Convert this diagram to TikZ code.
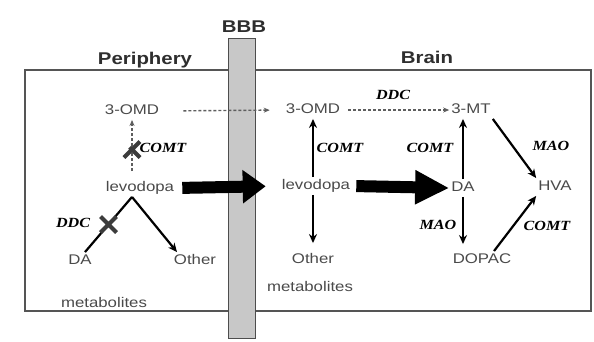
\documentclass[tikz,border=0pt]{standalone}
\usepackage{fontspec}
\newfontfamily\nf[FakeStretch=1.2]{Liberation Sans}
\newfontfamily\lf[FakeStretch=1.15]{Liberation Serif}
\usetikzlibrary{arrows.meta,shapes.misc}
\definecolor{txtgray}{HTML}{4A4A4A}
\definecolor{hdrgray}{HTML}{2E2E2E}
\definecolor{boxc}{HTML}{555555}
\definecolor{barfill}{HTML}{C8C8C8}
\definecolor{bardraw}{HTML}{4D4D4D}
\definecolor{dashgray}{HTML}{5E5E5E}
\definecolor{xgray}{HTML}{3C3C3C}
\tikzset{
  nd/.style={font=\nf\fontsize{14}{16}\selectfont, text=txtgray, inner sep=2pt, text height=10.5pt, text depth=3pt},
  lab/.style={font=\lf\bfseries\itshape\fontsize{14}{16}\selectfont, text=black, inner sep=1pt},
  hdr/.style={font=\nf\bfseries\fontsize{17}{20}\selectfont, text=hdrgray, inner sep=0pt, anchor=base},
  arr/.style={line width=2.2pt, -{Stealth[length=9pt,width=8pt]}},
  ln/.style={line width=2.2pt},
  dsh/.style={line width=1.4pt, dash pattern=on 3pt off 2pt, draw=dashgray, -{Stealth[length=6pt,width=5pt]}},
  big/.style={line width=12pt, -{Triangle[length=#1,width=32pt]}},
  xm/.style={solid, cross out, draw=xgray, line width=4pt, minimum size=12pt, inner sep=0pt},
}
\begin{document}
\begin{tikzpicture}[x=1pt,y=-1pt]
\useasboundingbox (0,0) rectangle (594,341);
\fill[white] (0,0) rectangle (594,341);
% compartments
\draw[boxc, line width=1.5pt] (25,70) rectangle (591,311);
\draw[draw=bardraw, fill=barfill, line width=1pt] (228,38) rectangle (255,338);
% headers
\node[hdr] (hP) at (145,64) {Periphery};
\node[hdr] (hB) at (427,63) {Brain};
\node[hdr] (hBBB) at (244,32) {BBB};
% periphery nodes
\node[nd] (omdP) at (132,111) {3-OMD};
\node[nd] (lvP)  at (140,188) {levodopa};
\node[nd] (daP)  at (80,261) {DA};
\node[nd] (oP)   at (195,261) {Other};
\node[nd] (metP) at (104,304) {metabolites};
% brain nodes
\node[nd] (omdB) at (313,110) {3-OMD};
\node[nd] (mt)   at (471,110) {3-MT};
\node[nd] (lvB)  at (316,186) {levodopa};
\node[nd] (oB)   at (313,260) {Other};
\node[nd] (metB) at (310,288) {metabolites};
\node[nd] (da)   at (463,188) {DA};
\node[nd] (hva)  at (555,187) {HVA};
\node[nd] (dopac) at (482,260) {DOPAC};
% enzyme labels
\node[lab] (cP)  at (163,148) {COMT};
\node[lab] (dP)  at (73,223) {DDC};
\node[lab] (dB1) at (393,95) {DDC};
\node[lab] (cB1) at (340,148) {COMT};
\node[lab] (cB2) at (430,148) {COMT};
\node[lab] (mB1) at (551,146) {MAO};
\node[lab] (mB2) at (438,225) {MAO};
\node[lab] (cB3) at (547,226) {COMT};
% periphery connectors
\draw[dsh, shorten <=8pt] (lvP.north -| omdP.south) -- node[xm, pos=0.5] (xC) {} (omdP.south);
\draw[ln] ([xshift=-8pt]lvP.south) -- node[xm, pos=0.5] (xD) {} ([xshift=5pt]daP.north);
\draw[arr] ([xshift=-8pt]lvP.south) -- ([xshift=-18pt]oP.north);
% crossing the barrier
\draw[dsh, shorten <=22pt, shorten >=14pt] (omdP.east) -- (omdB.west);
\draw[big=23pt, shorten <=6pt, shorten >=14pt] (lvP.east) -- (lvB.west);
% brain connectors
\draw[dsh, shorten <=6pt] (omdB.east) -- (mt.west);
\draw[arr] (lvB.north -| omdB.south) -- (omdB.south);
\draw[arr, shorten >=8pt] (lvB.south -| oB.north) -- (oB.north);
\draw[big=34pt, shorten <=4pt] (lvB.east) -- (da.west);
\draw[arr] (da.north) -- (da.north |- mt.south);
\draw[arr, shorten >=7pt] (da.south) -- (da.south |- dopac.north);
\draw[arr] (mt.south east) -- (hva.north west);
\draw[arr] ([xshift=12pt]dopac.north) -- (hva.south west);
\end{tikzpicture}
\end{document}
